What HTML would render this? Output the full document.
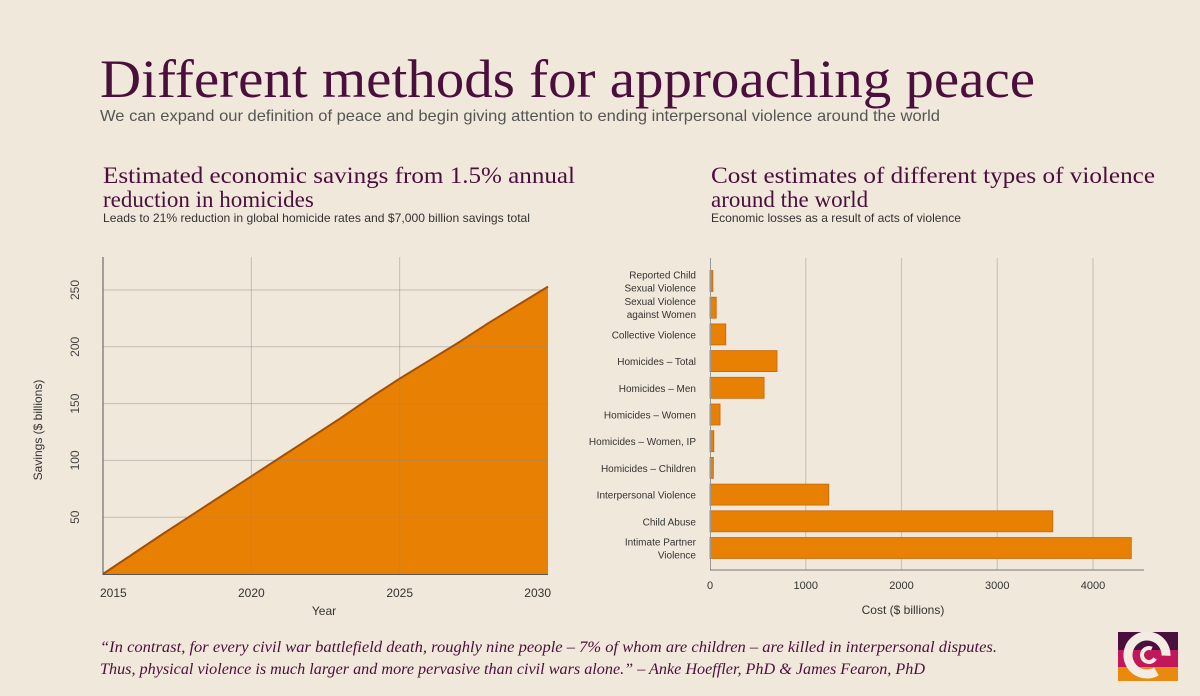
<!DOCTYPE html>
<html><head><meta charset="utf-8"><style>
html,body{margin:0;padding:0;background:#f0e8da;}
svg{display:block;}
.serif{font-family:"Liberation Serif",serif;fill:#4b0f3d;}
.sans{font-family:"Liberation Sans",sans-serif;}
</style></head><body>
<svg id="svg" width="1200" height="696" viewBox="0 0 1200 696" xmlns="http://www.w3.org/2000/svg">
<rect width="1200" height="696" fill="#f0e8da"/>
<text class="serif" x="100" y="97" font-size="54" textLength="935" lengthAdjust="spacingAndGlyphs">Different methods for approaching peace</text>
<text class="sans" x="100" y="121" font-size="16" fill="#555" textLength="840" lengthAdjust="spacingAndGlyphs">We can expand our definition of peace and begin giving attention to ending interpersonal violence around the world</text>

<text class="serif" x="103" y="183" font-size="23" textLength="472" lengthAdjust="spacingAndGlyphs">Estimated economic savings from 1.5% annual</text>
<text class="serif" x="103" y="207" font-size="23">reduction in homicides</text>
<text class="sans" x="103" y="222" font-size="12" fill="#333" textLength="427" lengthAdjust="spacingAndGlyphs">Leads to 21% reduction in global homicide rates and $7,000 billion savings total</text>

<text class="serif" x="711" y="183" font-size="23" textLength="444" lengthAdjust="spacingAndGlyphs">Cost estimates of different types of violence</text>
<text class="serif" x="711" y="207" font-size="23">around the world</text>
<text class="sans" x="711" y="222" font-size="12" fill="#333" textLength="250" lengthAdjust="spacingAndGlyphs">Economic losses as a result of acts of violence</text>

<g id="left"></g>
<g id="right"></g>

<text class="serif" x="100" y="652" font-size="16" font-style="italic" textLength="897" lengthAdjust="spacingAndGlyphs">“In contrast, for every civil war battlefield death, roughly nine people – 7% of whom are children – are killed in interpersonal disputes.</text>
<text class="serif" x="100" y="674" font-size="16" font-style="italic" textLength="825" lengthAdjust="spacingAndGlyphs">Thus, physical violence is much larger and more pervasive than civil wars alone.” – Anke Hoeffler, PhD &amp; James Fearon, PhD</text>

<g>
<rect x="1118" y="632" width="60" height="18" fill="#4b0f3d"/>
<rect x="1118" y="650" width="60" height="17" fill="#c2185b"/>
<rect x="1118" y="667" width="60" height="14" fill="#e98a0e"/>
<circle cx="1147" cy="655" r="19" fill="none" stroke="#f3ece2" stroke-width="9" stroke-dasharray="100 20" transform="rotate(60 1147 655)"/>
<circle cx="1149" cy="655" r="7" fill="none" stroke="#f3ece2" stroke-width="4" stroke-dasharray="32 12" transform="rotate(30 1149 655)"/>
</g>
</svg>
<script>
const years = [2015,2016,2017,2018,2019,2020,2021,2022,2023,2024,2025,2026,2027,2028,2029,2030];
const savings = [0,17.5,35,52,69,86,103,120,137,155,172,188,204,221,237,253];
const yTicks = [50,100,150,200,250];
const xTicks = [2015,2020,2025,2030];

const categories = ["Reported Child|Sexual Violence","Sexual Violence|against Women","Collective Violence","Homicides – Total","Homicides – Men","Homicides – Women","Homicides – Women, IP","Homicides – Children","Interpersonal Violence","Child Abuse","Intimate Partner|Violence"];
const costs = [30,65,165,700,565,105,40,35,1240,3580,4400];
const costTicks = [0,1000,2000,3000,4000];

const NS="http://www.w3.org/2000/svg";
function mk(parent,tag,attrs,txt){const e=document.createElementNS(NS,tag);for(const k in attrs)e.setAttribute(k,attrs[k]);if(txt!==undefined)e.textContent=txt;parent.appendChild(e);return e;}

// left chart
const L=document.getElementById('left');
const lx=v=>103+(v-2015)*(548-103)/15;
const ly=v=>574-v*(574-290)/250;
for(const t of yTicks){
  const tx=mk(L,'text',{x:75,y:ly(t),'font-size':12,fill:'#444','font-family':'Liberation Sans, sans-serif','text-anchor':'middle',transform:`rotate(-90 75 ${ly(t)}) translate(0 4)`},String(t));
  
  
}
for(const t of xTicks){
  const anchor=t===2015?'start':(t===2030?'end':'middle');
  const tx=mk(L,'text',{x:t===2015?100:(t===2030?551:lx(t)),y:597,'font-size':12,fill:'#333','font-family':'Liberation Sans, sans-serif','text-anchor':anchor},String(t));
  
  
}
let d=`M${lx(years[0])},${ly(0)}`;
years.forEach((y,i)=>{d+=` L${lx(y)},${ly(savings[i])}`;});
const area=mk(L,'path',{d:d+` L${lx(years[years.length-1])},${ly(0)} Z`,fill:'#e88003'});


for(const t of yTicks){
  const g=mk(L,'line',{x1:103,x2:548,y1:ly(t),y2:ly(t),stroke:'#8f8a84','stroke-width':1,opacity:0.45});
  
  
}
for(const t of xTicks){
  if(t>2015&&t<2030){const g=mk(L,'line',{x1:lx(t),x2:lx(t),y1:257,y2:574,stroke:'#8f8a84','stroke-width':1,opacity:0.45});
  
  }
}
let ld='';years.forEach((y,i)=>{ld+=(i?' L':'M')+lx(y)+','+ly(savings[i]);});
const line=mk(L,'path',{d:ld,fill:'none',stroke:'#a44f08','stroke-width':2});


const ax1=mk(L,'line',{x1:103,x2:103,y1:257,y2:575,stroke:'#555','stroke-width':1});


const ax2=mk(L,'line',{x1:103,x2:548,y1:574.5,y2:574.5,stroke:'#555','stroke-width':1});


const xt=mk(L,'text',{x:324,y:615,'font-size':12,fill:'#333','font-family':'Liberation Sans, sans-serif','text-anchor':'middle'},'Year');


const yt=mk(L,'text',{x:0,y:0,'font-size':12,fill:'#333','font-family':'Liberation Sans, sans-serif','text-anchor':'middle',transform:'translate(42 430) rotate(-90)'},'Savings ($ billions)');



// right chart
const R=document.getElementById('right');
const cx=v=>710+v*(1093-710)/4000;
const rowY=i=>281+i*26.7;
for(const t of costTicks){
  if(t>0){const g=mk(R,'line',{x1:cx(t),x2:cx(t),y1:258,y2:570,stroke:'#cdc5b8','stroke-width':1.2});
  
  }
  const tx=mk(R,'text',{x:cx(t),y:589,'font-size':11,fill:'#333','font-family':'Liberation Sans, sans-serif','text-anchor':'middle'},String(t));
  
  
}
categories.forEach((c,i)=>{
  const cy=rowY(i);
  const b=mk(R,'rect',{x:710,y:cy-10.5,width:cx(costs[i])-710,height:21,fill:'#e88003',stroke:'#c8660a','stroke-width':0.8});
  
  
  const parts=c.split('|');
  parts.forEach((p,j)=>{
    const yy=cy+4+(parts.length===2?(j===0?-6.5:6.5):0);
    const tx=mk(R,'text',{x:696,y:yy,'font-size':10,fill:'#333','font-family':'Liberation Sans, sans-serif','text-anchor':'end'},p);
    
    
  });
});
const rax=mk(R,'line',{x1:710.5,x2:710.5,y1:258,y2:570,stroke:'#999','stroke-width':1});


const rbx=mk(R,'line',{x1:710,x2:1144,y1:570,y2:570,stroke:'#777','stroke-width':1});


const rt=mk(R,'text',{x:903,y:614,'font-size':12,fill:'#333','font-family':'Liberation Sans, sans-serif','text-anchor':'middle'},'Cost ($ billions)');


</script>
</body></html>
